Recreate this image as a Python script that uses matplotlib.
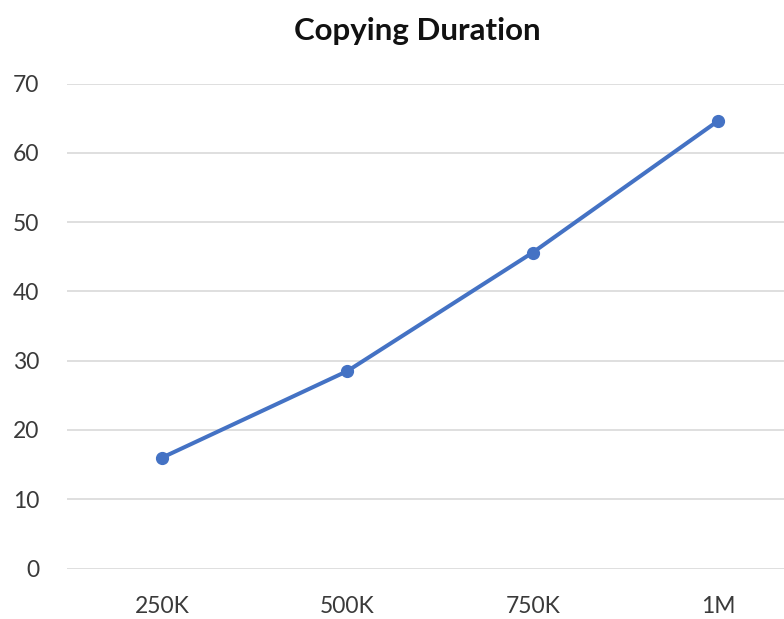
import matplotlib.pyplot as plt

# copying time per dataset size
sizes = ["250K", "500K", "750K", "1M"]
durations = [16.0, 28.5, 45.6, 64.6]
yticks = [0, 10, 20, 30, 40, 50, 60, 70]

plt.rcParams['font.family'] = ['Lato', 'DejaVu Sans']

fig = plt.figure(figsize=(7.84, 6.19), dpi=100)
ax = fig.add_axes([67 / 784, 50.5 / 619, 717 / 784, 485 / 619])

x = list(range(len(sizes)))
ax.plot(x, durations, color="#4472C4", linewidth=2.9, marker="o",
        markersize=8.5, zorder=3)

ax.set_xlim(-0.513, 3.356)
ax.set_ylim(0, 70)
ax.set_xticks(x)
ax.set_xticklabels(sizes)
ax.set_yticks(yticks)
ax.grid(axis="y", color="#d9d9d9", linewidth=1.2)
ax.tick_params(length=0, labelsize=16.5, colors="#3a3a3a")
ax.tick_params(axis="y", pad=20)
ax.tick_params(axis="x", pad=20)
for s in ax.spines.values():
    s.set_visible(False)

fig.text(417 / 784, 1 - 31 / 619, "Copying Duration", ha="center", va="center",
         fontsize=22.5, fontweight="bold", color="#111111")

fig.savefig("out.png", dpi=100)
